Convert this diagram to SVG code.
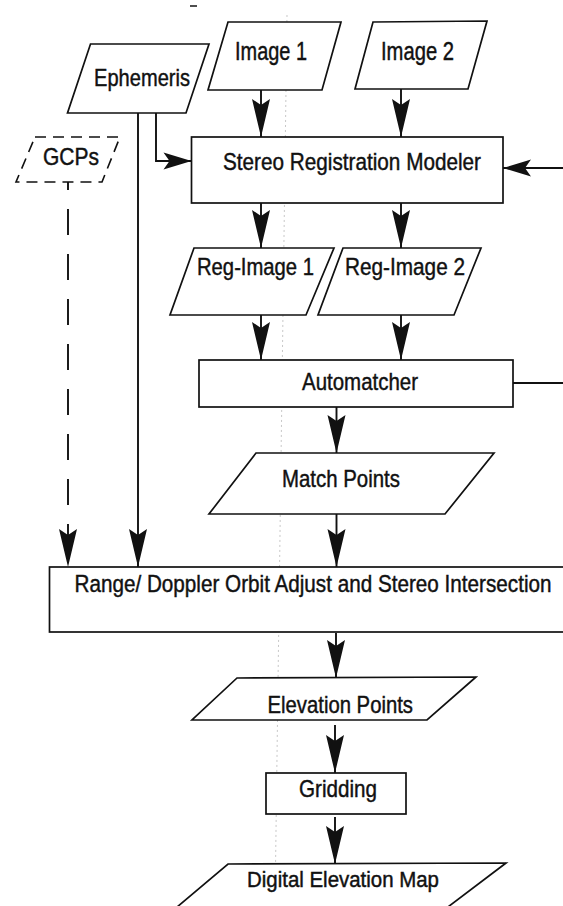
<svg xmlns="http://www.w3.org/2000/svg" width="563" height="906" viewBox="0 0 563 906">
  <style>
    .shape { fill: #ffffff; stroke: #111111; stroke-width: 1.7; }
    .dashed { fill: #ffffff; stroke: #111111; stroke-width: 1.6; stroke-dasharray: 11 7; }
    .conn { fill: none; stroke: #111111; stroke-width: 1.9; }
    .dconn { fill: none; stroke: #111111; stroke-width: 1.9; stroke-dasharray: 26 19; stroke-dashoffset: 18; }
    .lbl { font-family: "Liberation Sans", Arial, Helvetica, sans-serif; font-size: 24.5px; fill: #111111; stroke: #111111; stroke-width: 0.45; }
    .big { font-size: 25.5px; }
    .small { font-size: 22px; }
  </style>
  <defs>
    <marker id="arrow" markerUnits="userSpaceOnUse" viewBox="-40 -10 41 20" refX="0" refY="0" markerWidth="41" markerHeight="20" orient="auto">
      <path d="M0,0 L-38,-9 L-32,0 L-38,9 Z" fill="#111111" stroke="none"/>
    </marker>
    <marker id="arrow-short" markerUnits="userSpaceOnUse" viewBox="-30 -10 31 20" refX="0" refY="0" markerWidth="31" markerHeight="20" orient="auto">
      <path d="M0,0 L-28,-8.5 L-22,0 L-28,8.5 Z" fill="#111111" stroke="none"/>
    </marker>
  </defs>
  <rect x="0" y="0" width="563" height="906" fill="#ffffff"/>

  <!-- scan artifacts -->
  <line x1="287" y1="15" x2="275" y2="906" stroke="#c8c8c8" stroke-width="1" stroke-dasharray="2 3"/>
  <line x1="190" y1="6" x2="197" y2="6" stroke="#222222" stroke-width="1.6"/>

  <g id="connectors">
    <line class="conn" x1="261" y1="90" x2="261" y2="137" marker-end="url(#arrow)"/>
    <line class="conn" x1="401" y1="89" x2="401" y2="137" marker-end="url(#arrow)"/>
    <polyline class="conn" points="156,113 156,161 191.5,161" marker-end="url(#arrow-short)"/>
    <line class="conn" x1="138" y1="113" x2="138" y2="567" marker-end="url(#arrow)"/>
    <line class="dconn" x1="68" y1="182" x2="68" y2="567" marker-end="url(#arrow)"/>
    <line class="conn" x1="563" y1="168" x2="503" y2="168" marker-end="url(#arrow-short)"/>
    <line class="conn" x1="261" y1="203" x2="261" y2="248" marker-end="url(#arrow)"/>
    <line class="conn" x1="401" y1="203" x2="401" y2="248" marker-end="url(#arrow)"/>
    <line class="conn" x1="261" y1="315" x2="261" y2="360" marker-end="url(#arrow)"/>
    <line class="conn" x1="401" y1="315" x2="401" y2="360" marker-end="url(#arrow)"/>
    <line class="conn" x1="513" y1="383" x2="563" y2="383"/>
    <line class="conn" x1="336.5" y1="407" x2="336.5" y2="453" marker-end="url(#arrow)"/>
    <line class="conn" x1="336.5" y1="514" x2="336.5" y2="567" marker-end="url(#arrow)"/>
    <line class="conn" x1="336" y1="633" x2="336" y2="678" marker-end="url(#arrow)"/>
    <line class="conn" x1="335" y1="725" x2="335" y2="773" marker-end="url(#arrow)"/>
    <line class="conn" x1="335" y1="817" x2="335" y2="864" marker-end="url(#arrow)"/>
  </g>

  <g id="ephemeris">
    <polygon class="shape" points="90.5,44 209,44 186,113 67.5,113"/>
    <text class="lbl" x="94" y="86" textLength="96" lengthAdjust="spacingAndGlyphs">Ephemeris</text>
  </g>
  <g id="image1">
    <polygon class="shape" points="228,22 341,22 322,90 208,90"/>
    <text class="lbl big" x="235" y="60" textLength="72" lengthAdjust="spacingAndGlyphs">Image 1</text>
  </g>
  <g id="image2">
    <polygon class="shape" points="373,22 487,21 468,89 355,89"/>
    <text class="lbl big" x="381" y="60" textLength="73" lengthAdjust="spacingAndGlyphs">Image 2</text>
  </g>
  <g id="gcps">
    <polygon class="dashed" points="35,137 120,137 102,182 16,182"/>
    <text class="lbl" x="43" y="165" textLength="56" lengthAdjust="spacingAndGlyphs">GCPs</text>
  </g>
  <g id="stereo-registration-modeler">
    <rect class="shape" x="191.5" y="137" width="311.5" height="66"/>
    <text class="lbl" x="223" y="170" textLength="258" lengthAdjust="spacingAndGlyphs">Stereo Registration Modeler</text>
  </g>
  <g id="reg-image1">
    <polygon class="shape" points="194,248 334,248 306,315 170,315"/>
    <text class="lbl" x="197" y="275" textLength="117" lengthAdjust="spacingAndGlyphs">Reg-Image 1</text>
  </g>
  <g id="reg-image2">
    <polygon class="shape" points="343,248 481,248 454,315 318,315"/>
    <text class="lbl" x="345" y="275" textLength="120" lengthAdjust="spacingAndGlyphs">Reg-Image 2</text>
  </g>
  <g id="automatcher">
    <rect class="shape" x="199" y="360" width="314" height="47"/>
    <text class="lbl" x="302" y="390" textLength="116" lengthAdjust="spacingAndGlyphs">Automatcher</text>
  </g>
  <g id="match-points">
    <polygon class="shape" points="256,453 494,453 445,514 209,514"/>
    <text class="lbl" x="282" y="487" textLength="118" lengthAdjust="spacingAndGlyphs">Match Points</text>
  </g>
  <g id="range-doppler">
    <rect class="shape" x="49.5" y="567" width="516" height="65"/>
    <text class="lbl" x="74.5" y="592" textLength="477" lengthAdjust="spacingAndGlyphs">Range/ Doppler Orbit Adjust and Stereo Intersection</text>
  </g>
  <g id="elevation-points">
    <polygon class="shape" points="237,678 476,677 427,720 192,720"/>
    <text class="lbl" x="267.5" y="713" textLength="145.5" lengthAdjust="spacingAndGlyphs">Elevation Points</text>
  </g>
  <g id="gridding">
    <rect class="shape" x="266" y="773" width="140" height="41"/>
    <text class="lbl" x="299" y="797" textLength="78" lengthAdjust="spacingAndGlyphs">Gridding</text>
  </g>
  <g id="digital-elevation-map">
    <polygon class="shape" points="228,864 506,863 440,913 170,913"/>
    <text class="lbl small" x="247" y="887" textLength="192" lengthAdjust="spacingAndGlyphs">Digital Elevation Map</text>
  </g>
</svg>
